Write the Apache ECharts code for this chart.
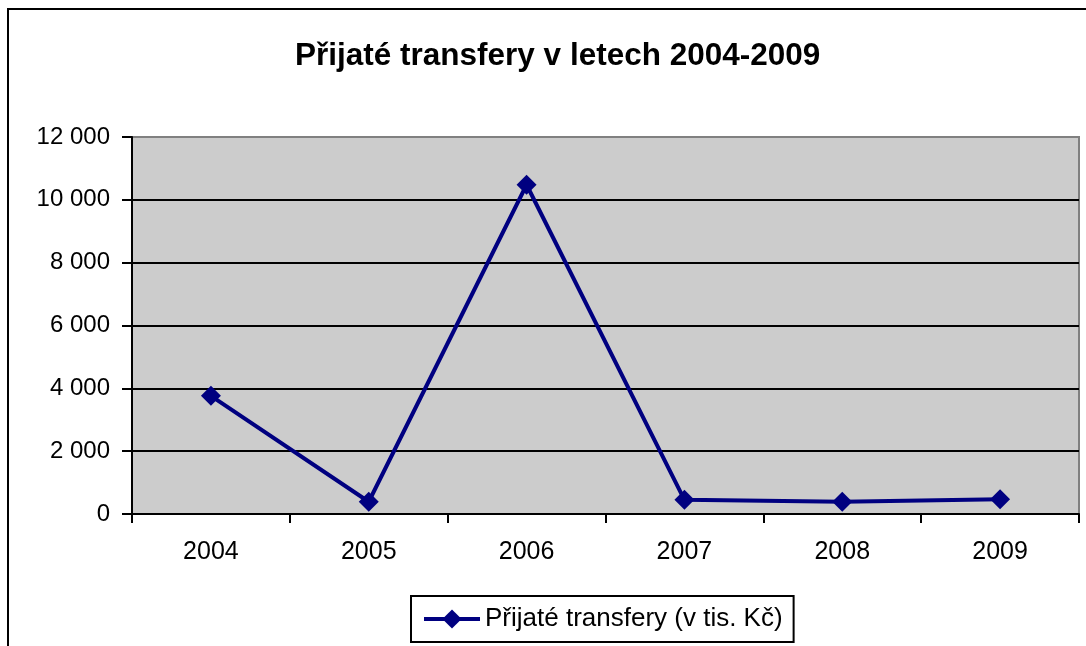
<!DOCTYPE html>
<html>
<head>
<meta charset="utf-8">
<script src="https://cdn.jsdelivr.net/npm/echarts@6/dist/echarts.min.js"></script>
<style>
  html, body { margin: 0; padding: 0; background: #fff; }
  #chart { width: 1086px; height: 646px; }
</style>
</head>
<body>
<div id="chart"></div>
<script>
// data
var years = ['2004', '2005', '2006', '2007', '2008', '2009'];
var transfery = [3760, 390, 10480, 450, 390, 470];
var seriesName = 'Přijaté transfery (v tis. Kč)';
var titleText = 'Přijaté transfery v letech 2004-2009';

var font = '"Liberation Sans", Arial, sans-serif';

// 12 000 style labels
function spaced(v) {
    return String(v).replace(/\B(?=(\d{3})+(?!\d))/g, ' ');
}

var myChart = echarts.init(document.getElementById('chart'));
myChart.setOption({
    animation: false,
    title: {
        text: titleText,
        left: 290,
        top: 35,
        textStyle: { fontFamily: font, fontSize: 31.5, fontWeight: 'bold', color: '#000' }
    },
    graphic: [{
        type: 'rect',
        shape: { x: 8, y: 9, width: 1200, height: 800 },
        style: { fill: 'none', stroke: '#000', lineWidth: 2 },
        silent: true
    }],
    grid: {
        left: 132, right: 7, top: 137, bottom: 132,
        show: true,
        backgroundColor: '#cccccc',
        borderColor: '#808080',
        borderWidth: 2
    },
    legend: {
        left: 411,
        top: 596,
        padding: [10, 11, 10, 11],
        borderColor: '#000',
        borderWidth: 2,
        itemWidth: 56,
        itemHeight: 24,
        lineStyle: { width: 4, color: '#000080' },
        textStyle: { fontFamily: font, fontSize: 26, color: '#000' },
        data: [seriesName]
    },
    xAxis: {
        type: 'category',
        data: years,
        boundaryGap: true,
        axisLine: { lineStyle: { color: '#000', width: 2 } },
        axisTick: { show: true, length: 9, lineStyle: { color: '#000', width: 2 } },
        axisLabel: { fontFamily: font, fontSize: 25, color: '#000', margin: 26 }
    },
    yAxis: {
        type: 'value',
        min: 0,
        max: 12000,
        interval: 2000,
        axisLine: { show: true, lineStyle: { color: '#000', width: 2 } },
        axisTick: { show: true, length: 10, lineStyle: { color: '#000', width: 2 } },
        axisLabel: { fontFamily: font, fontSize: 24, color: '#000', margin: 22, formatter: spaced },
        splitLine: {
            lineStyle: {
                color: ['#000', '#000', '#000', '#000', '#000', '#000', '#808080'],
                width: 2
            }
        }
    },
    series: [{
        name: seriesName,
        type: 'line',
        data: transfery,
        symbol: 'diamond',
        symbolSize: 20,
        lineStyle: { color: '#000080', width: 4 },
        itemStyle: { color: '#000080' }
    }]
});
</script>
</body>
</html>
